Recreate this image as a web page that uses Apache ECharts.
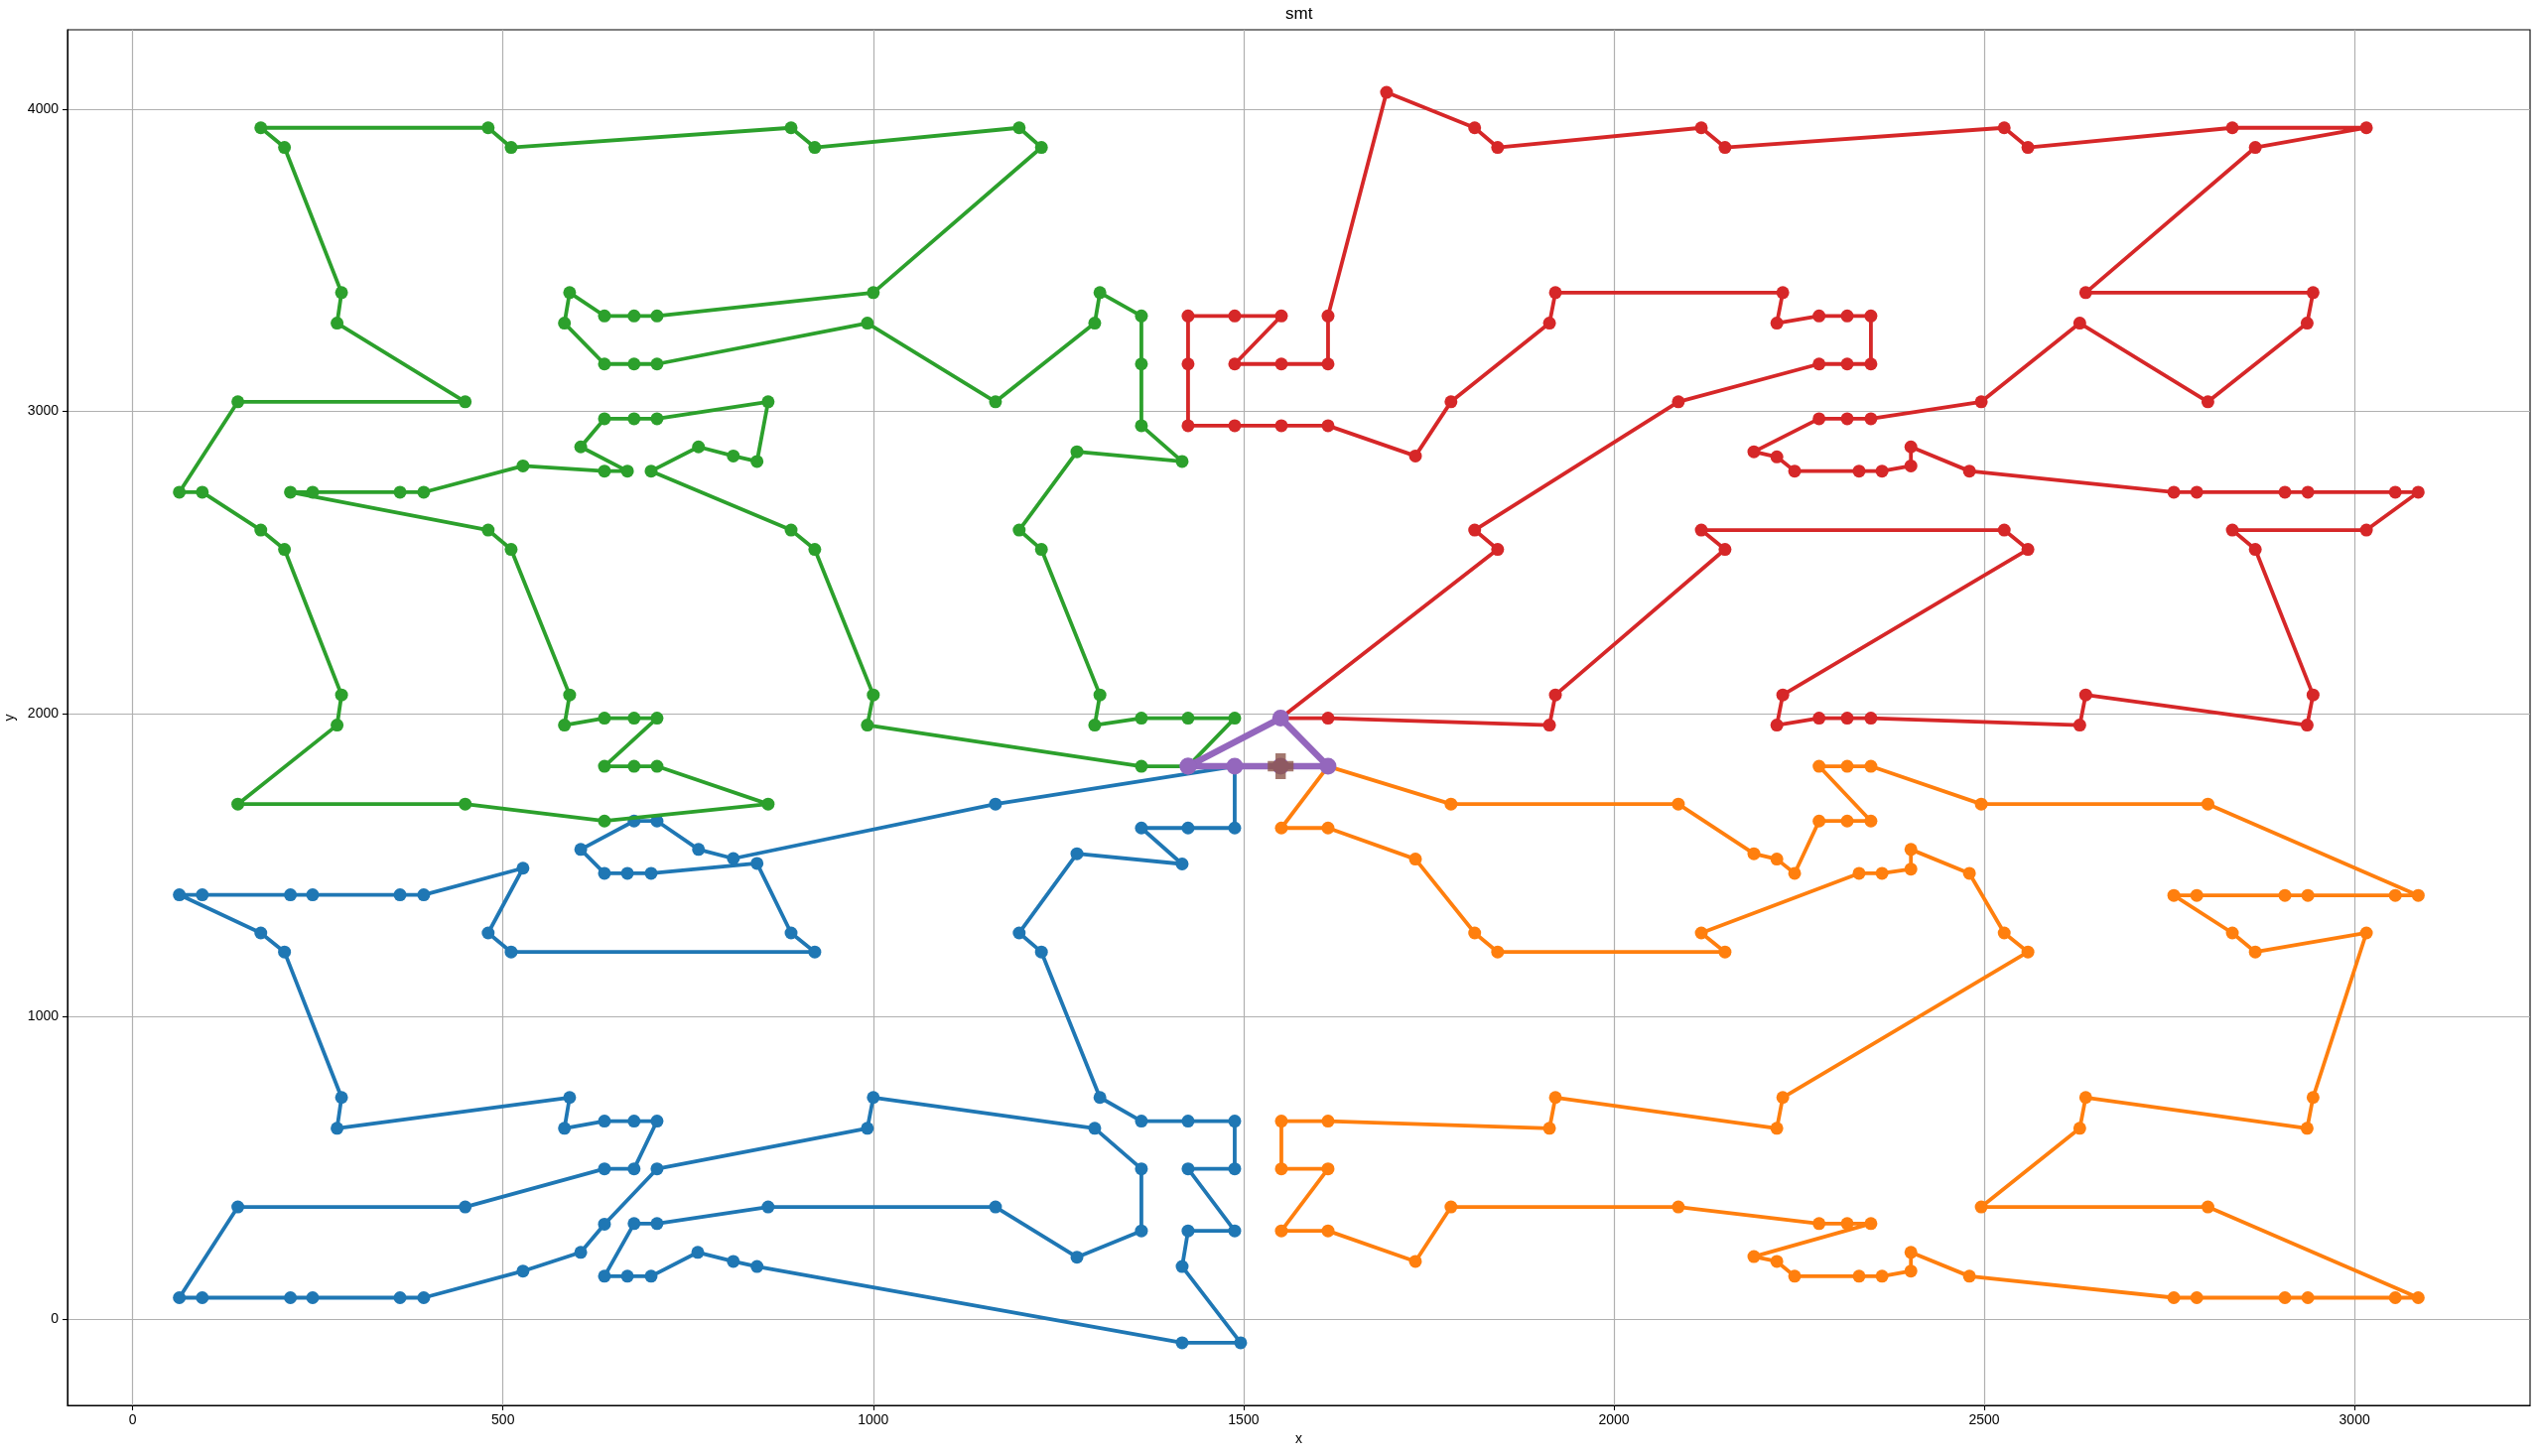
<!DOCTYPE html>
<html>
<head>
<meta charset="utf-8">
<script src="https://cdn.jsdelivr.net/npm/echarts@6/dist/echarts.min.js"></script>
<style>
html,body{margin:0;padding:0;background:#fff;}
#chart{width:2558px;height:1467px;}
</style>
</head>
<body>
<div id="chart"></div>
<script>
// ---- data ----
const titleText = 'smt';
const xTicks = [0, 500, 1000, 1500, 2000, 2500, 3000];
const yTicks = [0, 1000, 2000, 3000, 4000];

const blueRoute = [[1488,1827],[1165,1702],[811,1522],[764,1552],[708,1646],[677,1646],[605,1552],[637,1473],[668,1473],[700,1473],[843,1506],[889,1276],[921,1213],[511,1213],[480,1276],[527,1490],[393,1402],[361,1402],[243,1402],[213,1402],[94,1402],[63,1402],[173,1276],[205,1213],[282,732],[276,630],[590,732],[583,630],[637,654],[677,654],[708,654],[677,496],[637,496],[449,370],[142,370],[63,70],[94,70],[213,70],[243,70],[361,70],[393,70],[527,158],[605,220],[637,313],[708,496],[992,630],[1000,732],[1299,630],[1362,496],[1362,291],[1275,204],[1165,370],[858,370],[708,315],[677,315],[637,141],[668,141],[700,141],[763,220],[811,190],[843,173],[1417,-79],[1496,-79],[1417,173],[1425,291],[1488,291],[1425,496],[1488,496],[1488,654],[1425,654],[1362,654],[1306,732],[1227,1213],[1197,1276],[1275,1538],[1417,1504],[1362,1623],[1425,1623],[1488,1623],[1488,1827]];

const orangeRoute = [[1614,1827],[1551,1623],[1614,1623],[1732,1520],[1812,1276],[1843,1213],[2150,1213],[2118,1276],[2331,1473],[2362,1473],[2401,1487],[2401,1552],[2480,1473],[2527,1276],[2559,1213],[2228,732],[2220,630],[1921,732],[1913,630],[1614,654],[1551,654],[1551,496],[1614,496],[1551,291],[1614,291],[1732,190],[1780,370],[2087,370],[2277,315],[2315,315],[2347,315],[2189,206],[2220,190],[2244,141],[2331,141],[2362,141],[2401,158],[2401,220],[2480,141],[2756,70],[2787,70],[2906,70],[2937,70],[3055,70],[3086,70],[2802,370],[2496,370],[2629,630],[2637,732],[2936,630],[2944,732],[3016,1276],[2866,1213],[2835,1276],[2756,1400],[2787,1400],[2906,1400],[2937,1400],[3055,1400],[3086,1400],[2802,1702],[2496,1702],[2347,1827],[2315,1827],[2277,1827],[2347,1646],[2315,1646],[2277,1646],[2244,1473],[2220,1520],[2189,1538],[2087,1702],[1780,1702],[1614,1827]];

const greenRoute = [[1425,1827],[1488,1986],[1425,1986],[1362,1986],[1299,1963],[1306,2063],[1227,2544],[1197,2608],[1275,2867],[1417,2835],[1362,2953],[1362,3157],[1362,3316],[1306,3393],[1299,3292],[1165,3032],[992,3292],[708,3157],[677,3157],[637,3157],[583,3292],[590,3393],[637,3316],[677,3316],[708,3316],[1000,3393],[1227,3873],[1197,3938],[921,3873],[889,3938],[511,3873],[480,3938],[173,3938],[205,3873],[282,3393],[276,3292],[449,3032],[142,3032],[63,2733],[94,2733],[173,2608],[205,2544],[282,2063],[276,1963],[142,1702],[449,1702],[637,1646],[858,1702],[708,1827],[677,1827],[637,1827],[708,1986],[677,1986],[637,1986],[583,1963],[590,2063],[511,2544],[480,2608],[213,2733],[243,2733],[361,2733],[393,2733],[527,2820],[637,2803],[668,2803],[605,2883],[637,2976],[677,2976],[708,2976],[858,3032],[843,2835],[811,2853],[764,2883],[700,2803],[889,2608],[921,2544],[1000,2063],[992,1963],[1362,1827],[1425,1827]];

const redRoute = [[1550,1986],[1614,1986],[1913,1963],[1921,2063],[2150,2544],[2118,2608],[2527,2608],[2559,2544],[2228,2063],[2220,1963],[2277,1986],[2315,1986],[2347,1986],[2629,1963],[2637,2063],[2936,1963],[2944,2063],[2866,2544],[2835,2608],[3016,2608],[3086,2733],[3055,2733],[2937,2733],[2906,2733],[2787,2733],[2756,2733],[2480,2803],[2401,2883],[2401,2820],[2362,2803],[2331,2803],[2244,2803],[2220,2850],[2189,2867],[2277,2976],[2315,2976],[2347,2976],[2496,3032],[2629,3292],[2802,3032],[2936,3292],[2944,3393],[2637,3393],[2866,3873],[3016,3938],[2835,3938],[2559,3873],[2527,3938],[2150,3873],[2118,3938],[1843,3873],[1812,3938],[1693,4055],[1614,3316],[1614,3157],[1551,3157],[1488,3157],[1551,3316],[1488,3316],[1425,3316],[1425,3157],[1425,2953],[1488,2953],[1551,2953],[1614,2953],[1732,2853],[1780,3032],[1913,3292],[1921,3393],[2228,3393],[2220,3292],[2277,3316],[2315,3316],[2347,3316],[2347,3157],[2315,3157],[2277,3157],[2087,3032],[1812,2608],[1843,2544],[1550,1986]];

const purpleRoute = [[1425,1827],[1550,1986],[1614,1827],[1550,1827],[1488,1827],[1425,1827]];
const depot = [[1550,1827]];

// ---- chart ----
const FONT = 'Liberation Sans, Arial, sans-serif';
const chart = echarts.init(document.getElementById('chart'), null, {renderer: 'canvas'});

function route(name, data, color, lw, size, z) {
  return {
    name: name, type: 'line', data: data, z: z,
    symbol: 'circle', symbolSize: size, showSymbol: true,
    lineStyle: {color: color, width: lw},
    itemStyle: {color: color},
    emphasis: {disabled: true}, silent: true, clip: false
  };
}
const plain = function (v) { return String(v); };

const option = {
  animation: false,
  backgroundColor: '#ffffff',
  grid: {left: 68, right: 9, top: 30, bottom: 51, show: true, borderColor: '#000', borderWidth: 1.1,
         backgroundColor: 'rgba(0,0,0,0)', containLabel: false, outerBoundsMode: 'none'},
  graphic: [{
    type: 'text', left: 1308 - 13, top: 6,
    style: {text: titleText, fontFamily: FONT, fontSize: 17, fill: '#000'}
  }],
  xAxis: {
    type: 'value', min: -88, max: 3237,
    name: 'x', nameLocation: 'middle', nameGap: 26,
    nameTextStyle: {fontFamily: FONT, fontSize: 14, color: '#000'},
    axisLine: {show: true, onZero: false, lineStyle: {color: '#000', width: 1.1}},
    axisTick: {show: true, length: 5, customValues: xTicks, lineStyle: {color: '#000', width: 1.1}},
    axisLabel: {customValues: xTicks, formatter: plain, margin: 8, fontFamily: FONT, fontSize: 14, color: '#000'},
    splitLine: {show: true, lineStyle: {color: '#b0b0b0', width: 1.2}}
  },
  yAxis: {
    type: 'value', min: -286, max: 4262,
    name: 'y', nameLocation: 'middle', nameGap: 46,
    nameTextStyle: {fontFamily: FONT, fontSize: 14, color: '#000'},
    axisLine: {show: true, onZero: false, lineStyle: {color: '#000', width: 1.1}},
    axisTick: {show: true, length: 5, customValues: yTicks, lineStyle: {color: '#000', width: 1.1}},
    axisLabel: {customValues: yTicks, formatter: plain, margin: 9, fontFamily: FONT, fontSize: 14, color: '#000'},
    splitLine: {show: true, lineStyle: {color: '#b0b0b0', width: 1.2}}
  },
  series: [
    route('route 1', blueRoute, '#1f77b4', 3.8, 13, 2),
    route('route 2', orangeRoute, '#ff7f0e', 3.8, 13, 3),
    route('route 3', greenRoute, '#2ca02c', 3.8, 13, 4),
    route('route 4', redRoute, '#d62728', 3.8, 13, 5),
    route('route 5', purpleRoute, '#9467bd', 6.5, 17, 6),
    {
      name: 'depot', type: 'scatter', data: depot, z: 7,
      symbol: 'path://M3,0H7V3H10V7H7V10H3V7H0V3H3Z', symbolSize: 26,
      itemStyle: {color: '#8c564b'}, silent: true
    }
  ]
};
chart.setOption(option);
</script>
</body>
</html>
